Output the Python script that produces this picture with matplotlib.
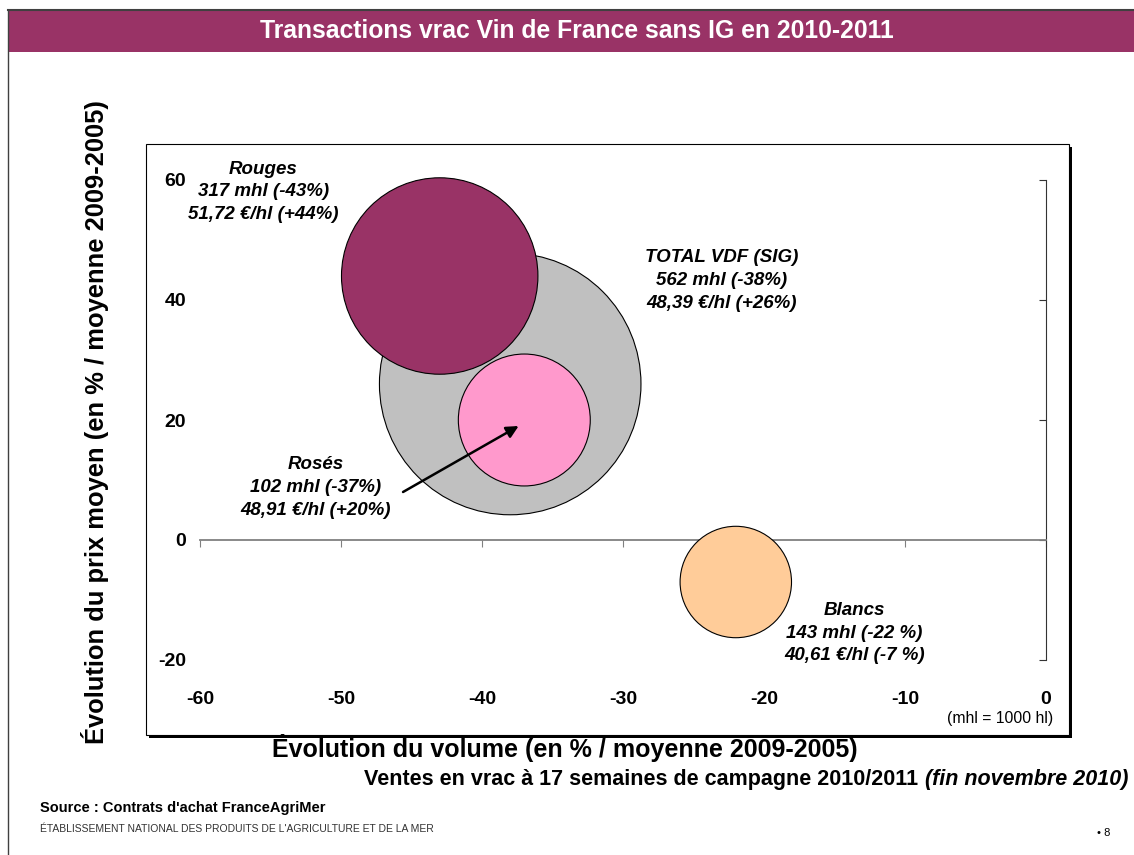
import matplotlib
matplotlib.use('Agg')
import matplotlib.pyplot as plt
from matplotlib.patches import Rectangle
import numpy as np

# data
series = ['TOTAL VDF (SIG)', 'Rouges', 'Rosés', 'Blancs']
vol_change = [-38, -43, -37, -22]        # evolution du volume (%)
price_change = [26, 44, 20, -7]          # evolution du prix moyen (%)
bubble_size = [562, 317, 143, 102]       # bubble size as drawn (mhl)
label_lines = [
    ['TOTAL VDF (SIG)', '562 mhl (-38%)', '48,39 €/hl (+26%)'],
    ['Rouges', '317 mhl (-43%)', '51,72 €/hl (+44%)'],
    ['Rosés', '102 mhl (-37%)', '48,91 €/hl (+20%)'],
    ['Blancs', '143 mhl (-22 %)', '40,61 €/hl (-7 %)'],
]
x_ticks = [-60, -50, -40, -30, -20, -10, 0]
y_ticks = [-20, 0, 20, 40, 60]

colors = ['#C0C0C0', '#993366', '#FF99CC', '#FFCC99']
label_pos = [(-23.0, 43.2), (-55.5, 58.0), (-51.8, 8.7), (-13.6, -15.5)]

plt.rcParams['font.family'] = ['Liberation Sans', 'DejaVu Sans']
plt.rcParams['axes.unicode_minus'] = False

W, H = 1134, 855
fig = plt.figure(figsize=(W / 100, H / 100), dpi=100)


def fx(px):
    return px / W


def fy(py):
    return 1 - py / H


# slide frame and title band
fig.add_artist(plt.Line2D([fx(8), fx(8)], [0, fy(10)], color='#404040', lw=1))
fig.add_artist(plt.Line2D([fx(8), 1], [fy(10), fy(10)], color='#404040', lw=1.5))
fig.add_artist(Rectangle((fx(8), fy(52)), 1 - fx(8), fy(11) - fy(52),
                         facecolor='#993366', edgecolor='none'))
fig.text(fx(577), fy(31), 'Transactions vrac Vin de France sans IG en 2010-2011',
         color='white', fontsize=17.8, fontweight='bold',
         ha='center', va='center')

# chart box with shadow
fig.add_artist(Rectangle((fx(149), fy(738)), fx(1072) - fx(149), fy(147) - fy(738),
                         facecolor='black', edgecolor='none', zorder=-2))
fig.add_artist(Rectangle((fx(146), fy(735)), fx(1069) - fx(146), fy(144) - fy(735),
                         facecolor='white', edgecolor='black', lw=0.8, zorder=-1))

ax = fig.add_axes([fx(200), fy(660), fx(1046) - fx(200), fy(180) - fy(660)])
ax.patch.set_visible(False)
ax.set_xlim(-60, 0)
ax.set_ylim(-20, 60)

ax.scatter(vol_change, price_change, s=np.array(bubble_size) * 63.1,
           c=colors, edgecolors='black', linewidths=0.8, zorder=3, clip_on=False)

for lines, (lx, ly) in zip(label_lines, label_pos):
    ax.text(lx, ly, '\n'.join(lines), ha='center', va='center', fontsize=13.5,
            fontweight='bold', fontstyle='italic', linespacing=1.45, zorder=5)

ax.annotate('', xy=(-37.4, 19.0), xytext=(-45.6, 8.0),
            arrowprops=dict(arrowstyle='-|>', color='black', lw=1.8,
                            mutation_scale=18, shrinkA=0, shrinkB=0), zorder=6)

for s in ['top', 'left']:
    ax.spines[s].set_visible(False)
ax.spines['right'].set_color('#333333')
ax.spines['bottom'].set_position(('data', 0))
ax.spines['bottom'].set_color('#808080')
ax.spines['bottom'].set_linewidth(1.3)

ax.set_xticks(x_ticks)
ax.tick_params(axis='x', direction='out', length=5, color='#808080', labelbottom=False)
ax.set_yticks(y_ticks)
ax.set_yticklabels([str(v) for v in y_ticks], fontsize=14, fontweight='bold')
ax.tick_params(axis='y', left=False, right=True, direction='in', length=5,
               color='#333333', labelleft=True, labelright=False, pad=10)

sec = ax.secondary_xaxis(0)
sec.set_xticks(x_ticks)
sec.set_xticklabels([str(v) for v in x_ticks], fontsize=14, fontweight='bold')
sec.tick_params(length=0, pad=22)
sec.spines['bottom'].set_visible(False)

ax.text(0.5, -29.7, '(mhl = 1000 hl)', ha='right', va='center', fontsize=11.3)

# axis titles
fig.text(fx(565), fy(748), 'Évolution du volume (en % / moyenne 2009-2005)',
         fontsize=18, fontweight='bold', ha='center', va='center')
fig.text(fx(95), fy(422), 'Évolution du prix moyen (en % / moyenne 2009-2005)',
         fontsize=18.4, fontweight='bold', ha='center', va='center', rotation=90)

# subtitle, second part in italic
t_it = fig.text(fx(1128), fy(779), '(fin novembre 2010)', fontsize=15.5,
                fontweight='bold', fontstyle='italic',
                ha='right', va='center')
ax.annotate('Ventes en vrac à 17 semaines de campagne 2010/2011 ', xy=(0, 0.5),
            xycoords=t_it, ha='right', va='center', fontsize=15.5,
            fontweight='bold', annotation_clip=False)

fig.text(fx(40), fy(808), "Source : Contrats d'achat FranceAgriMer", fontsize=10.5,
         fontweight='bold', ha='left', va='center')
fig.text(fx(40), fy(829), "ÉTABLISSEMENT NATIONAL DES PRODUITS DE L'AGRICULTURE ET DE LA MER",
         fontsize=7.5, color='#333333', ha='left', va='center')
fig.text(fx(1097), fy(833), '• 8', fontsize=8, ha='left', va='center')

fig.savefig('out.png', dpi=100)
